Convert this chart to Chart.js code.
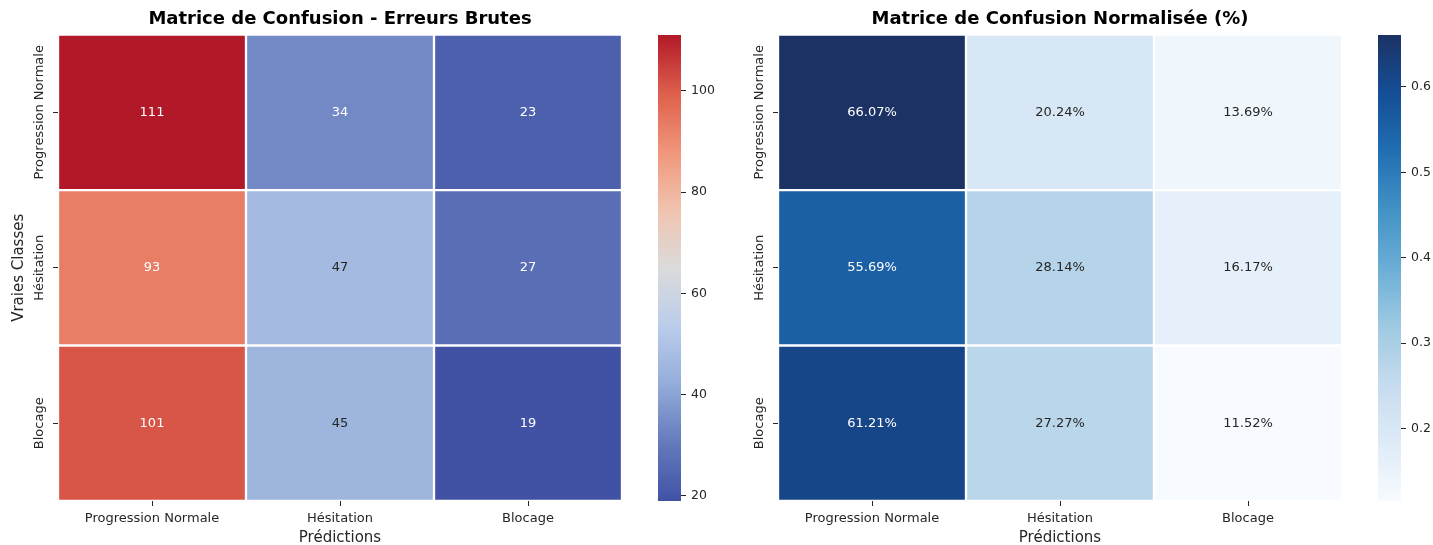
<!DOCTYPE html>
<html lang="fr">
<head>
<meta charset="utf-8">
<title>Matrices de confusion</title>
<script src="https://cdn.jsdelivr.net/npm/chart.js@4.4.1/dist/chart.umd.min.js"></script>
<style>
  html, body { margin: 0; padding: 0; background: #fff; }
  #wrap { position: relative; width: 1433px; height: 545px; }
  canvas { position: absolute; top: 0; }
</style>
</head>
<body>
<div id="wrap">
  <canvas id="rawChart" width="640" height="545" style="left:0"></canvas>
  <canvas id="rawBar" width="80" height="545" style="left:640px"></canvas>
  <canvas id="pctChart" width="640" height="545" style="left:720px"></canvas>
  <canvas id="pctBar" width="73" height="545" style="left:1360px"></canvas>
</div>
<script>
const classes = ['Progression Normale', 'Hésitation', 'Blocage'];

// lignes = vraies classes, colonnes = prédictions
const rawCounts = [
  [111, 34, 23],
  [93, 47, 27],
  [101, 45, 19],
];
const pctValues = [
  [0.6607, 0.2024, 0.1369],
  [0.5569, 0.2814, 0.1617],
  [0.6121, 0.2727, 0.1152],
];
const rawTicks = [20, 40, 60, 80, 100];
const pctTicks = [0.2, 0.3, 0.4, 0.5, 0.6];

const FONT = 'DejaVu Sans';
const INK = '#262626';

// colormaps (coolwarm / Blues), un peu adoucies
const coolwarm = [
  [65, 82, 165], [100, 122, 188], [148, 172, 218], [186, 205, 235], [219, 219, 219],
  [240, 195, 175], [240, 150, 122], [222, 95, 76], [178, 25, 40],
];
const blues = [
  [247, 251, 255], [222, 235, 247], [198, 219, 239], [158, 202, 225], [107, 174, 214],
  [66, 146, 198], [33, 110, 178], [20, 78, 150], [28, 50, 100],
];

function sample(stops, t) {
  t = Math.min(1, Math.max(0, t));
  const p = t * (stops.length - 1);
  const i = Math.min(stops.length - 2, Math.floor(p));
  const f = p - i;
  const a = stops[i], b = stops[i + 1];
  return a.map((c, k) => Math.round(c + (b[k] - c) * f));
}
const rgb = c => `rgb(${c[0]},${c[1]},${c[2]})`;

// même règle que seaborn pour la couleur des annotations
function luminance(c) {
  const lin = c.map(v => {
    v /= 255;
    return v <= 0.03928 ? v / 12.92 : Math.pow((v + 0.055) / 1.055, 2.4);
  });
  return 0.2126 * lin[0] + 0.7152 * lin[1] + 0.0722 * lin[2];
}

const cellLabels = {
  id: 'cellLabels',
  afterDatasetsDraw(chart) {
    const ctx = chart.ctx;
    ctx.save();
    ctx.font = `13px "${FONT}"`;
    ctx.textAlign = 'center';
    ctx.textBaseline = 'middle';
    chart.data.datasets.forEach((ds, i) => {
      chart.getDatasetMeta(i).data.forEach((bar, j) => {
        const { x, y, base } = bar.getProps(['x', 'y', 'base'], true);
        ctx.fillStyle = ds.cellInk[j];
        ctx.fillText(ds.cellText[j], x, (y + base) / 2);
      });
    });
    ctx.restore();
  },
};

const rowLabels = {
  id: 'rowLabels',
  afterDraw(chart) {
    const sy = chart.scales.y;
    const ctx = chart.ctx;
    ctx.save();
    ctx.font = `13px "${FONT}"`;
    ctx.fillStyle = INK;
    ctx.textAlign = 'center';
    ctx.textBaseline = 'middle';
    classes.forEach((name, i) => {
      ctx.save();
      ctx.translate(sy.right - 18, sy.getPixelForValue(i + 0.5));
      ctx.rotate(-Math.PI / 2);
      ctx.fillText(name, 0, 0);
      ctx.restore();
    });
    ctx.restore();
  },
};

function makeHeatmap(id, matrix, stops, fmt, titleText, yTitle) {
  const flat = matrix.flat();
  const vmin = Math.min(...flat), vmax = Math.max(...flat);
  const colorOf = v => sample(stops, (v - vmin) / (vmax - vmin));
  return new Chart(document.getElementById(id), {
    type: 'bar',
    data: {
      labels: classes,
      datasets: matrix.map((row, i) => ({
        data: row.map(() => [i, i + 1]),
        backgroundColor: row.map(v => rgb(colorOf(v))),
        cellText: row.map(fmt),
        cellInk: row.map(v => (luminance(colorOf(v)) > 0.408 ? INK : '#ffffff')),
        borderColor: '#ffffff',
        borderWidth: 1.5,
        borderSkipped: false,
        grouped: false,
        barPercentage: 1,
        categoryPercentage: 1,
      })),
    },
    options: {
      responsive: false,
      animation: false,
      layout: { padding: { right: 18 } },
      plugins: {
        legend: { display: false },
        tooltip: { enabled: false },
        title: {
          display: true,
          text: titleText,
          fullSize: false,
          color: '#000',
          font: { family: FONT, size: 18, weight: 'bold' },
          padding: { top: 9, bottom: 4 },
        },
      },
      scales: {
        x: {
          grid: { drawOnChartArea: false, offset: false, tickLength: 5, color: INK },
          border: { display: false },
          ticks: { font: { family: FONT, size: 13 }, color: INK, padding: 5, maxRotation: 0 },
          title: { display: true, text: 'Prédictions', color: INK, font: { family: FONT, size: 15 }, padding: { top: 0, bottom: -2 } },
          afterFit: s => { s.height = 44; },
        },
        y: {
          type: 'linear',
          min: 0,
          max: 3,
          reverse: true,
          afterBuildTicks: s => { s.ticks = classes.map((_, i) => ({ value: i + 0.5 })); },
          grid: { drawOnChartArea: false, tickLength: 5, color: INK },
          border: { display: false },
          ticks: { display: false },
          title: { display: !!yTitle, text: yTitle || '', color: INK, font: { family: FONT, size: 15 }, padding: { top: 10 } },
          afterFit: s => { s.width = 58; },
        },
      },
    },
    plugins: [cellLabels, rowLabels],
  });
}

function makeColorbar(id, matrix, stops, ticks, axisWidth) {
  const flat = matrix.flat();
  const vmin = Math.min(...flat), vmax = Math.max(...flat);
  return new Chart(document.getElementById(id), {
    type: 'bar',
    data: {
      labels: [''],
      datasets: [{
        data: [[vmin, vmax]],
        backgroundColor: c => {
          const area = c.chart.chartArea;
          if (!area) return rgb(stops[0]);
          const g = c.chart.ctx.createLinearGradient(0, area.bottom, 0, area.top);
          for (let k = 0; k <= 40; k++) g.addColorStop(k / 40, rgb(sample(stops, k / 40)));
          return g;
        },
        borderWidth: 0,
        barPercentage: 1,
        categoryPercentage: 1,
      }],
    },
    options: {
      responsive: false,
      animation: false,
      layout: { padding: { left: 18, top: 35, bottom: 44 } },
      plugins: { legend: { display: false }, tooltip: { enabled: false } },
      scales: {
        x: { display: false },
        y: {
          position: 'right',
          min: vmin,
          max: vmax,
          afterBuildTicks: s => { s.ticks = ticks.map(v => ({ value: v })); },
          grid: { drawOnChartArea: false, tickLength: 5, color: INK },
          border: { display: false },
          ticks: { font: { family: FONT, size: 12.5 }, color: INK, padding: 5, callback: v => String(v) },
          afterFit: s => { s.width = axisWidth; },
        },
      },
    },
  });
}

makeHeatmap('rawChart', rawCounts, coolwarm, v => String(v),
  'Matrice de Confusion - Erreurs Brutes', 'Vraies Classes');
makeColorbar('rawBar', rawCounts, coolwarm, rawTicks, 39);
makeHeatmap('pctChart', pctValues, blues, v => (v * 100).toFixed(2) + '%',
  'Matrice de Confusion Normalisée (%)', '');
makeColorbar('pctBar', pctValues, blues, pctTicks, 32);
</script>
</body>
</html>
